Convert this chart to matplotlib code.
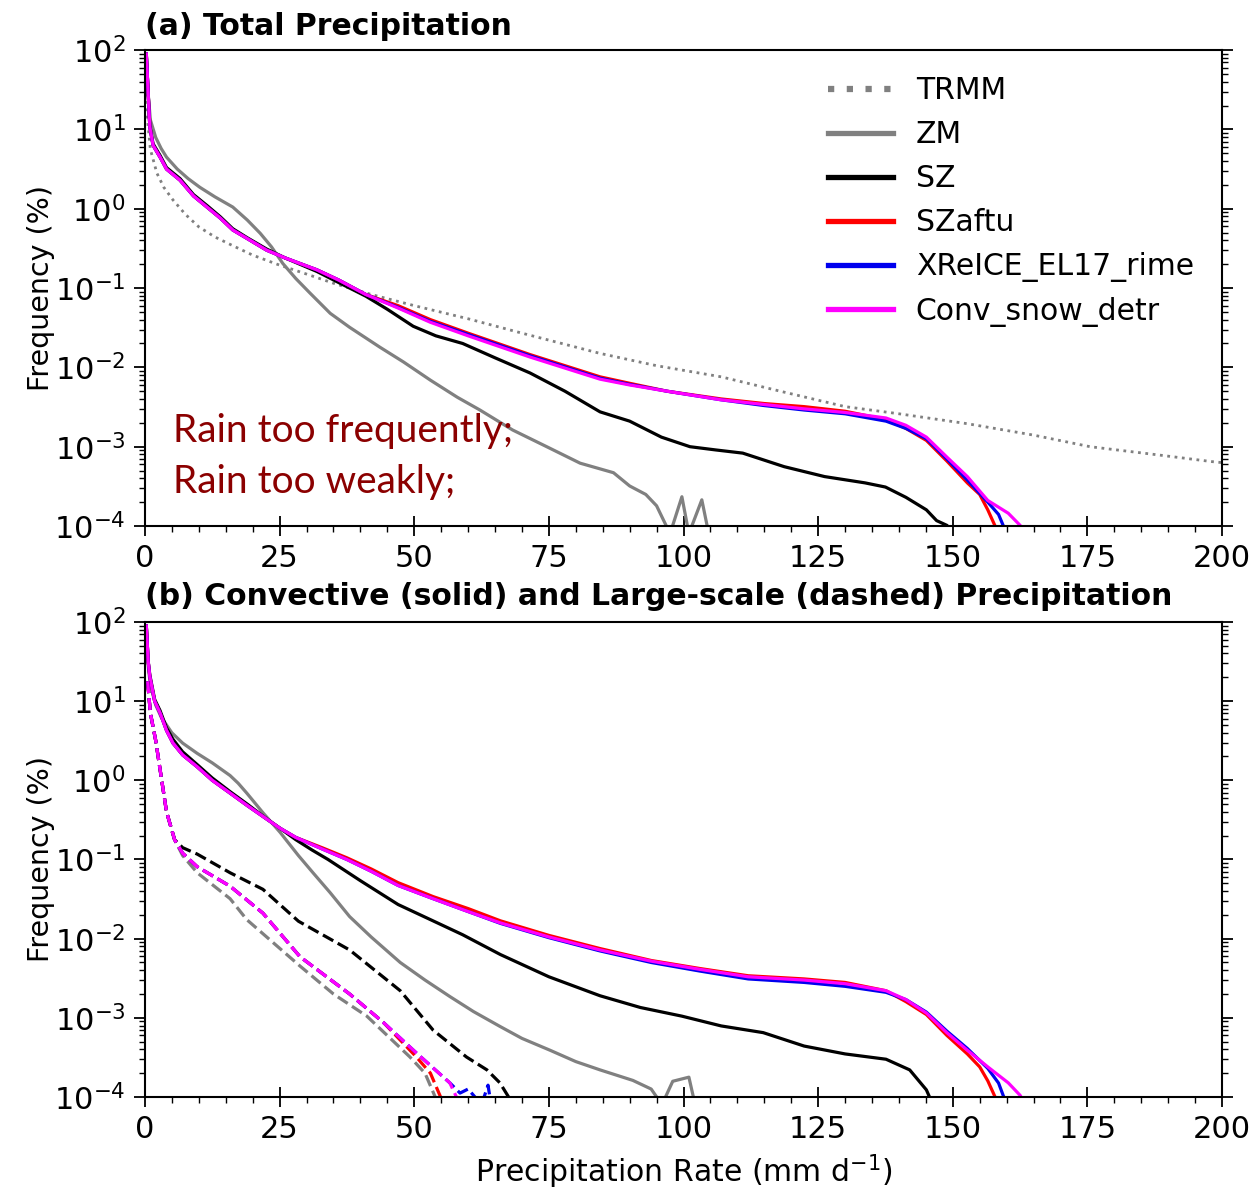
import matplotlib
matplotlib.use("Agg")
import matplotlib.pyplot as plt
from matplotlib.ticker import MultipleLocator, LogLocator

# ---------------- panel (a): total precipitation ----------------
trmm_x = [0.25, 0.5, 1, 2.2, 3.5, 5.2, 7.5, 10, 13, 16, 20, 24.5, 30, 35, 42, 50, 60, 70,
          84.5, 95, 107, 118, 130, 140, 152.7, 165, 175.5, 188, 198, 200]
trmm_y = [28.2, 12.6, 5.62, 2.82, 1.86, 1.29, 0.85, 0.59, 0.44, 0.35, 0.26, 0.20, 0.15, 0.115,
          0.083, 0.060, 0.041, 0.027, 0.015, 0.0105, 0.0076, 0.0050, 0.0032, 0.0026, 0.00195,
          0.0014, 0.0010, 0.00079, 0.00065, 0.00063]

zm_a_x = [0.25, 0.6, 1, 2, 3, 4, 6, 8, 10.2, 13, 16.3, 19, 21.4, 23.5, 25.6, 28, 30.6, 34.4, 38,
          43.6, 48, 53, 58, 62.2, 68.3, 74.6, 80.8, 87, 90, 93, 95, 97.5, 99.7, 101, 103.4, 105]
zm_a_y = [89, 28, 13.2, 7.9, 5.75, 4.47, 3.16, 2.4, 1.86, 1.41, 1.05, 0.72, 0.49, 0.33, 0.204,
          0.132, 0.087, 0.048, 0.032, 0.018, 0.0117, 0.0069, 0.0042, 0.0029, 0.00162, 0.0010,
          0.00062, 0.00047, 0.00032, 0.00025, 0.00018, 0.00008, 0.000234, 0.00008, 0.000214, 0.000063]

sz_a_x = [0.25, 0.6, 0.9, 1.5, 2.8, 4, 6.5, 9, 11.5, 14, 16.3, 19, 22.6, 26, 31.9, 36, 41, 45,
          49.8, 54, 59, 65, 71.5, 78, 84.5, 90, 95.9, 101.2, 106, 111, 118.7, 126.2, 133.7,
          137.5, 141.3, 145.1, 147, 148.9, 150.5]
sz_a_y = [89, 28, 11.2, 6.6, 4.7, 3.3, 2.4, 1.51, 1.1, 0.79, 0.56, 0.43, 0.31, 0.24, 0.162,
          0.117, 0.079, 0.054, 0.033, 0.025, 0.020, 0.0132, 0.0085, 0.0050, 0.00275, 0.0021,
          0.00132, 0.0010, 0.00091, 0.00083, 0.00056, 0.00042, 0.00035, 0.00031, 0.00023,
          0.00016, 0.000117, 0.000102, 0.00008]

conv_a_x = [0.25, 0.6, 0.9, 1.5, 2.8, 4, 6.5, 9, 11.5, 14, 16.3, 19, 22.6, 26, 31.9, 36, 41, 47,
            53, 60, 71.5, 84.5, 90, 97, 107, 115, 122.4, 130, 137.6, 141.3, 145.1, 148.9,
            152.7, 156.5, 160.3, 162.5, 163.5]
conv_a_y = [89, 28, 10.7, 6.3, 4.47, 3.16, 2.29, 1.45, 1.05, 0.76, 0.54, 0.42, 0.30, 0.24, 0.17,
            0.126, 0.083, 0.056, 0.037, 0.025, 0.0135, 0.0071, 0.0060, 0.0050, 0.0039, 0.0034,
            0.0030, 0.0027, 0.0023, 0.00186, 0.00132, 0.00074, 0.00042, 0.00021, 0.000145,
            0.000102, 0.00008]

aftu_a_x = [0.25, 0.6, 0.9, 1.5, 2.8, 4, 6.5, 9, 11.5, 14, 16.3, 19, 22.6, 26, 31.9, 36, 41, 47,
            53, 60, 71.5, 84.5, 90, 97, 107, 115, 122.4, 130, 137.6, 141.3, 145.1, 148.9,
            152.7, 155, 156.5, 158.5]
aftu_a_y = [89, 28, 10.7, 6.3, 4.47, 3.16, 2.29, 1.45, 1.05, 0.76, 0.54, 0.42, 0.30, 0.24, 0.17,
            0.126, 0.083, 0.060, 0.040, 0.027, 0.0145, 0.0076, 0.0063, 0.0050, 0.0040, 0.0035,
            0.0032, 0.0028, 0.0022, 0.0017, 0.0012, 0.00066, 0.00035, 0.00025, 0.00016, 0.00008]

rime_a_x = [0.25, 0.6, 0.9, 1.5, 2.8, 4, 6.5, 9, 11.5, 14, 16.3, 19, 22.6, 26, 31.9, 36, 41, 47,
            53, 60, 71.5, 84.5, 90, 97, 107, 115, 122.4, 130, 137.6, 141.3, 145.1, 148.9,
            152.7, 156.5, 158.5, 160]
rime_a_y = [89, 28, 10.7, 6.3, 4.47, 3.16, 2.29, 1.45, 1.05, 0.76, 0.54, 0.42, 0.30, 0.24, 0.17,
            0.126, 0.083, 0.057, 0.038, 0.026, 0.014, 0.0073, 0.0061, 0.0050, 0.0039, 0.0033,
            0.0029, 0.0026, 0.0021, 0.0017, 0.00126, 0.0007, 0.00038, 0.0002, 0.00014, 0.00008]

# ---------------- panel (b): convective (solid) ----------------
zm_b_x = [0.25, 0.6, 1, 2, 3, 5, 7, 9.7, 12.5, 15.8, 17.3, 18.9, 21.9, 25.1, 28.5, 31.2, 34.4,
          38, 42, 47.4, 52, 56.6, 61, 65.9, 70, 75.2, 80, 84.5, 90.6, 94, 96, 98, 101, 102.5]
zm_b_y = [89, 28, 15.8, 8.9, 6.3, 3.98, 2.95, 2.19, 1.66, 1.15, 0.92, 0.69, 0.39, 0.22, 0.112,
          0.068, 0.038, 0.019, 0.0105, 0.0050, 0.0030, 0.00186, 0.0012, 0.00078, 0.00055,
          0.00039, 0.00028, 0.00022, 0.000162, 0.000126, 0.00008, 0.000158, 0.000178, 0.000063]

sz_b_x = [0.25, 0.6, 0.9, 1.8, 2.8, 4, 5.2, 7, 9.7, 12.5, 15.8, 19, 22, 25, 28, 31, 34, 40, 47, 53,
          59, 66, 75, 84.5, 92, 99.7, 107, 114.8, 122.4, 130, 137.6, 142, 145.1, 146.3]
sz_b_y = [89, 31.6, 21.4, 10.5, 7.6, 4.6, 3.3, 2.29, 1.58, 1.07, 0.72, 0.50, 0.35, 0.25, 0.178,
          0.132, 0.10, 0.054, 0.027, 0.0174, 0.0112, 0.0063, 0.0033, 0.0019, 0.00135, 0.00105,
          0.00079, 0.00065, 0.00044, 0.00035, 0.00030, 0.00022, 0.000123, 0.00008]

conv_b_x = [0.25, 0.6, 0.9, 1.8, 2.8, 4, 5.2, 7, 9.7, 12.5, 15.8, 19, 21.9, 25, 28, 33, 37.5, 42,
            47, 53.5, 60, 66, 75, 84.5, 94, 103, 112, 122.4, 130, 137.6, 141.3, 145.1, 148.9,
            152.7, 156.5, 160.3, 162.5, 163.5]
conv_b_y = [89, 31.6, 20.4, 10, 7.1, 4.27, 2.95, 2.09, 1.48, 1.0, 0.69, 0.48, 0.35, 0.25, 0.19,
            0.135, 0.10, 0.071, 0.047, 0.032, 0.022, 0.0158, 0.0105, 0.0072, 0.0052, 0.0041,
            0.0033, 0.0030, 0.0027, 0.0022, 0.0017, 0.00115, 0.00065, 0.00039, 0.00024,
            0.000151, 0.000105, 0.00008]

aftu_b_x = [0.25, 0.6, 0.9, 1.8, 2.8, 4, 5.2, 7, 9.7, 12.5, 15.8, 19, 21.9, 25, 28, 33, 37.5, 42,
            47, 53.5, 60, 66, 75, 84.5, 94, 103, 112, 122.4, 130, 137.6, 141.3, 145.1, 148.9,
            152.7, 155, 156.5, 158.5]
aftu_b_y = [89, 31.6, 20.4, 10, 7.1, 4.27, 2.95, 2.09, 1.48, 1.0, 0.69, 0.48, 0.35, 0.25, 0.19,
            0.14, 0.105, 0.076, 0.051, 0.034, 0.024, 0.0168, 0.011, 0.0075, 0.0053, 0.0042,
            0.0034, 0.0031, 0.0028, 0.0022, 0.0016, 0.0011, 0.0006, 0.00035, 0.00024, 0.00016,
            0.00008]

rime_b_x = [0.25, 0.6, 0.9, 1.8, 2.8, 4, 5.2, 7, 9.7, 12.5, 15.8, 19, 21.9, 25, 28, 33, 37.5, 42,
            47, 53.5, 60, 66, 75, 84.5, 94, 103, 112, 122.4, 130, 137.6, 141.3, 145.1, 148.9,
            152.7, 156.5, 158.5, 160]
rime_b_y = [89, 31.6, 20.4, 10, 7.1, 4.27, 2.95, 2.09, 1.48, 1.0, 0.69, 0.48, 0.35, 0.25, 0.19,
            0.135, 0.10, 0.071, 0.047, 0.032, 0.022, 0.0156, 0.0103, 0.0070, 0.0050, 0.0039,
            0.0031, 0.0028, 0.0025, 0.0021, 0.0017, 0.00118, 0.00068, 0.00041, 0.00023,
            0.00015, 0.00008]

# ---------------- panel (b): large-scale (dashed) ----------------
zm_ls_x = [0.5, 1, 2, 3, 4, 5.5, 7, 9.7, 15.8, 18.9, 28.8, 35, 41.2, 49.2, 52, 54.5]
zm_ls_y = [17.8, 7.1, 3.16, 1.12, 0.40, 0.178, 0.112, 0.068, 0.032, 0.0174, 0.0045, 0.0020,
           0.00105, 0.00032, 0.0002, 0.00008]

sz_ls_x = [0.5, 1, 2, 3, 4, 5.5, 7, 9.7, 15.8, 21.9, 28.5, 38, 47.4, 53.5, 59.7, 63.5, 65.9, 68.4]
sz_ls_y = [17.8, 7.1, 3.16, 1.12, 0.40, 0.178, 0.141, 0.117, 0.068, 0.042, 0.0166, 0.0072,
           0.0022, 0.0007, 0.00032, 0.00022, 0.000151, 0.00008]

conv_ls_x = [0.5, 1, 2, 3, 4, 5.5, 7, 9.7, 15.8, 21.9, 28.8, 38, 44.3, 50.4, 56.6, 58.5]
conv_ls_y = [17.8, 7.1, 3.16, 1.12, 0.40, 0.178, 0.12, 0.081, 0.046, 0.021, 0.0059, 0.0020,
             0.00087, 0.00036, 0.000151, 0.00008]

aftu_ls_x = [0.5, 1, 2, 3, 4, 5.5, 7, 9.7, 15.8, 21.9, 28.8, 38, 44.3, 50.4, 53, 55.5]
aftu_ls_y = [17.8, 7.1, 3.16, 1.12, 0.40, 0.178, 0.12, 0.081, 0.046, 0.021, 0.0059, 0.0020,
             0.00087, 0.00032, 0.0002, 0.00008]

rime_ls_x = [0.5, 1, 2, 3, 4, 5.5, 7, 9.7, 15.8, 21.9, 28.8, 38, 44.3, 50.4, 56.6, 58.5, 60,
             62.5, 63.7, 64.5]
rime_ls_y = [17.8, 7.1, 3.16, 1.12, 0.40, 0.178, 0.12, 0.081, 0.046, 0.021, 0.0059, 0.0020,
             0.00087, 0.00036, 0.000151, 0.000112, 0.000126, 0.00008, 0.000141, 0.000063]

labels = ['TRMM', 'ZM', 'SZ', 'SZaftu', 'XReICE_EL17_rime', 'Conv_snow_detr']
colors = ['#808080', '#808080', 'black', '#ff0000', '#0000ee', '#ff00ff']
xticks = [0, 25, 50, 75, 100, 125, 150, 175, 200]

lw = 2.3

fig = plt.figure(figsize=(12.53, 11.92), dpi=100)
ax_a = fig.add_axes([0.1157, 0.5587, 0.8596, 0.3993])
ax_b = fig.add_axes([0.1157, 0.0797, 0.8596, 0.3985])

# panel (a)
ax_a.plot(trmm_x, trmm_y, ':', color=colors[0], lw=2.0, label=labels[0])
ax_a.plot(zm_a_x, zm_a_y, '-', color=colors[1], lw=lw, label=labels[1])
ax_a.plot(sz_a_x, sz_a_y, '-', color=colors[2], lw=lw, label=labels[2])
ax_a.plot(aftu_a_x, aftu_a_y, '-', color=colors[3], lw=lw, label=labels[3])
ax_a.plot(rime_a_x, rime_a_y, '-', color=colors[4], lw=lw, label=labels[4])
ax_a.plot(conv_a_x, conv_a_y, '-', color=colors[5], lw=lw, label=labels[5])

leg = ax_a.legend(loc='upper right', bbox_to_anchor=(0.985, 0.97), frameon=False,
                  fontsize=21.5, handlelength=2.2, handletextpad=0.75, labelspacing=0.5,
                  borderaxespad=0.0)
for h in leg.legend_handles:
    h.set_linewidth(3.8)
leg.legend_handles[0].set_linewidth(4.5)
leg.legend_handles[0].set_linestyle((0, (1, 2)))

ax_a.text(5.2, 1.14e-3, 'Rain too frequently;', color='#8b0000', fontsize=28,
          family=['Lato', 'DejaVu Sans'], va='baseline')
ax_a.text(5.2, 2.6e-4, 'Rain too weakly;', color='#8b0000', fontsize=28,
          family=['Lato', 'DejaVu Sans'], va='baseline')

# panel (b)
ax_b.plot(zm_b_x, zm_b_y, '-', color=colors[1], lw=lw)
ax_b.plot(sz_b_x, sz_b_y, '-', color=colors[2], lw=lw)
ax_b.plot(aftu_b_x, aftu_b_y, '-', color=colors[3], lw=lw)
ax_b.plot(rime_b_x, rime_b_y, '-', color=colors[4], lw=lw)
ax_b.plot(conv_b_x, conv_b_y, '-', color=colors[5], lw=lw)

ax_b.plot(zm_ls_x, zm_ls_y, '--', color=colors[1], lw=lw)
ax_b.plot(sz_ls_x, sz_ls_y, '--', color=colors[2], lw=lw)
ax_b.plot(aftu_ls_x, aftu_ls_y, '--', color=colors[3], lw=lw)
ax_b.plot(rime_ls_x, rime_ls_y, '--', color=colors[4], lw=lw)
ax_b.plot(conv_ls_x, conv_ls_y, '--', color=colors[5], lw=lw)

ax_a.set_title('(a) Total Precipitation', loc='left', fontweight='bold', fontsize=21.5, pad=11)
ax_b.set_title('(b) Convective (solid) and Large-scale (dashed) Precipitation', loc='left',
               fontweight='bold', fontsize=21.5, pad=12)

for ax in (ax_a, ax_b):
    ax.set_yscale('log')
    ax.set_ylim(1e-4, 1e2)
    ax.set_xlim(0, 200)
    ax.set_xticks(xticks)
    ax.xaxis.set_minor_locator(MultipleLocator(5))
    ax.yaxis.set_major_locator(LogLocator(base=10, numticks=10))
    ax.yaxis.set_minor_locator(LogLocator(base=10, subs=range(2, 10), numticks=100))
    ax.set_ylabel('Frequency (%)', fontsize=20.5, labelpad=-1)
    ax.tick_params(axis='both', which='major', labelsize=22)
    ax.tick_params(axis='y', which='both', left=True, right=True, direction='out')
    ax.tick_params(axis='y', which='major', length=8, width=1.3, pad=6)
    ax.tick_params(axis='y', which='minor', length=4, width=1.0)
    ax.tick_params(axis='x', which='major', direction='inout', length=14, width=1.3, pad=6)
    ax.tick_params(axis='x', which='minor', direction='out', length=4, width=1.0)
    for s in ax.spines.values():
        s.set_linewidth(1.5)

ax_b.set_xlabel('Precipitation Rate (mm d$^{-1}$)', fontsize=21.5, labelpad=6)

fig.savefig('out.png', dpi=100)
